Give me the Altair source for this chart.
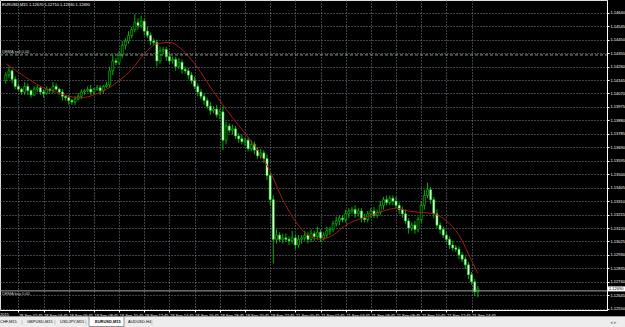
import altair as alt
import pandas as pd

# ---------------- data ----------------
symbol = "EURUSD,M15"
first_open = 1.1416

close_fri = [1.1420, 1.1423, 1.1417, 1.1412,
             1.1410, 1.1408, 1.1412, 1.1409, 1.1406, 1.1410, 1.1411, 1.1408, 1.1407, 1.1410,
             1.1409, 1.1412, 1.1410, 1.1408, 1.1405, 1.1404,
             1.1402, 1.1401, 1.1403, 1.1405,
             1.1408, 1.1409, 1.1410, 1.1408, 1.1410, 1.1411, 1.1409, 1.1412, 1.1413,
             1.1423, 1.1430, 1.1429, 1.1434,
             1.1441, 1.1444, 1.1448, 1.1452, 1.1457, 1.1455,
             1.1458, 1.1451, 1.1448, 1.1444, 1.1443,
             1.1430, 1.1437, 1.1438,
             1.1433, 1.1430, 1.1431, 1.1426, 1.1429, 1.1424, 1.1423,
             1.1420, 1.1416, 1.1412, 1.1408, 1.1405, 1.1402,
             1.1398, 1.1395, 1.1396, 1.1392, 1.1394,
             1.1374, 1.1384, 1.1381, 1.1382, 1.1377,
             1.1375, 1.1373, 1.1374, 1.1368, 1.1371, 1.1367, 1.1363, 1.1365, 1.1361,
             1.1349, 1.1332, 1.1304, 1.1307, 1.1304, 1.1305]

close_mon = [1.1304, 1.1303, 1.1305, 1.1300, 1.1304,
             1.1305, 1.1307, 1.1304, 1.1308, 1.1306, 1.1309, 1.1305, 1.1307, 1.1310, 1.1311,
             1.1315, 1.1317, 1.1319, 1.1318, 1.1322, 1.1324,
             1.1325, 1.1322, 1.1324, 1.1319, 1.1318, 1.1322, 1.1324, 1.1321, 1.1323,
             1.1328, 1.1332, 1.1330, 1.1333, 1.1331, 1.1328, 1.1325,
             1.1322, 1.1317, 1.1312, 1.1314, 1.1311, 1.1318,
             1.1328, 1.1335, 1.1339, 1.1332,
             1.1322, 1.1314, 1.1311, 1.1307,
             1.1304, 1.1300, 1.1298, 1.1297,
             1.1293, 1.1290, 1.1286,
             1.1279, 1.1274, 1.1267, 1.1269]

# wick lengths in pips (upper / lower)
uw_fri = [2, 3, 1, 2, 2, 1, 3, 2, 1, 2, 2, 1, 2, 2, 1, 3, 2, 1, 2, 1, 2, 1, 2, 2,
          2, 1, 2, 3, 1, 2, 2, 1, 2, 3, 4, 2, 3, 3, 2, 3, 2, 6, 3, 4, 2, 3, 2, 2,
          2, 3, 2, 2, 3, 2, 2, 3, 2, 2, 2, 2, 3, 2, 2, 2, 2, 3, 2, 3, 2, 4, 3, 2,
          3, 2, 2, 3, 2, 2, 3, 2, 2, 3, 2, 3, 2, 3, 4, 2, 3]
lw_fri = [2, 2, 3, 2, 1, 2, 2, 3, 2, 1, 2, 2, 3, 1, 2, 2, 1, 2, 3, 2, 3, 2, 2, 1,
          2, 2, 1, 2, 2, 1, 3, 2, 1, 2, 3, 2, 2, 2, 3, 2, 2, 2, 3, 2, 3, 2, 3, 2,
          4, 2, 2, 3, 2, 2, 3, 2, 3, 2, 3, 2, 2, 3, 2, 3, 2, 3, 2, 2, 3, 7, 3, 2,
          3, 2, 3, 2, 3, 2, 2, 3, 2, 2, 3, 3, 4, 17, 3, 2, 3]
uw_mon = [3, 2, 5, 2, 3, 2, 3, 2, 3, 2, 4, 2, 2, 3, 2, 2, 3, 2, 2, 3, 2,
          2, 3, 2, 2, 3, 2, 2, 3, 2, 3, 2, 3, 2, 2, 3, 2, 2, 3, 2, 2, 3, 2,
          3, 4, 5, 2, 2, 3, 2, 2, 2, 2, 3, 2, 2, 2, 2, 2, 2, 2, 2]
lw_mon = [2, 3, 2, 3, 2, 3, 2, 3, 2, 3, 2, 3, 2, 2, 3, 2, 2, 3, 2, 2, 3,
          2, 3, 2, 3, 2, 2, 3, 2, 2, 2, 3, 2, 2, 3, 2, 3, 3, 2, 4, 2, 3, 2,
          2, 3, 2, 3, 3, 2, 3, 2, 2, 3, 2, 2, 3, 2, 3, 3, 2, 3, 4]

# moving average (red line), sampled at bar numbers
ma_bars = [0, 4, 8, 12, 16, 20, 24, 28, 32, 36, 40, 44, 48, 52, 56, 60, 64, 68, 72, 76,
           80, 84, 88, 92, 96, 100, 104, 108, 112, 116, 120, 124, 128, 132, 136, 140,
           144, 148, 150]
ma_vals = [1.1428, 1.1422, 1.1416, 1.1411, 1.1408, 1.1405, 1.1404, 1.1406, 1.1410, 1.1416,
           1.1424, 1.1435, 1.1442, 1.1443, 1.1438, 1.1428, 1.1415, 1.1402, 1.1390, 1.1379,
           1.1367, 1.1352, 1.1332, 1.1317, 1.1307, 1.1304, 1.1307, 1.1314, 1.1318, 1.1321,
           1.1324, 1.1326, 1.1324, 1.1323, 1.1322, 1.1317, 1.1307, 1.1289, 1.1280]

price_labels = [1.14640, 1.14545, 1.14450, 1.14355, 1.14260, 1.14165, 1.14070, 1.13975,
                1.13880, 1.13785, 1.13690, 1.13595, 1.13500, 1.13405, 1.13310, 1.13215,
                1.13120, 1.13025, 1.12930, 1.12835, 1.12740, 1.12645, 1.12550]

time_labels = ["18 Sep 02:45", "18 Sep 04:45", "18 Sep 06:45", "18 Sep 08:45", "18 Sep 10:45",
               "18 Sep 12:45", "18 Sep 14:45", "18 Sep 16:45", "18 Sep 18:45", "18 Sep 20:45",
               "18 Sep 22:45", "21 Sep 00:45", "21 Sep 02:45", "21 Sep 04:45", "21 Sep 06:45",
               "21 Sep 08:45", "21 Sep 10:45", "21 Sep 12:45", "21 Sep 14:45"]

tab_names = ["CHF,M15", "GBPUSD,M15", "USDJPY,M15", "EURUSD,M15", "AUDUSD,H4"]
active_tab = "EURUSD,M15"
level_names = ["DEMA sell 0.00", "DEMA buy 0.00"]
level_prices = [1.14342, 1.12676]

# ---------------- tables ----------------
times = list(pd.date_range("2015-09-18 01:45", "2015-09-18 23:45", freq="15min")) + \
        list(pd.date_range("2015-09-21 00:00", "2015-09-21 15:15", freq="15min"))
tstr = [t.strftime("%d %b %H:%M") for t in times]
closes = close_fri + close_mon
opens = [first_open] + closes[:-1]
uw = uw_fri + uw_mon
lw = lw_fri + lw_mon
highs = [max(o, c) + u * 0.0001 for o, c, u in zip(opens, closes, uw)]
lows = [min(o, c) - l * 0.0001 for o, c, l in zip(opens, closes, lw)]
df = pd.DataFrame({"i": range(len(closes)), "t": tstr, "open": opens, "close": closes,
                   "high": highs, "low": lows})
df["bull"] = df["close"] >= df["open"]

ma_df = pd.DataFrame({"i": ma_bars, "ma": ma_vals})
lab_idx = [tstr.index(s) for s in time_labels]
expr = "''"
for k, s in reversed(list(zip(lab_idx, time_labels))):
    expr = f"datum.value == {k} ? '{s}' : " + expr

last = df.tail(1)
header = f"{symbol}  {last['open'].iloc[0]:.5f} {last['high'].iloc[0]:.5f} {last['low'].iloc[0]:.5f} {last['close'].iloc[0]:.5f}"

lev_df = pd.DataFrame({"name": level_names, "price": level_prices})

# ---------------- chart ----------------
W, H = 607, 310
FONT = "Liberation Sans"
GREEN = "#00e000"
xscale = alt.Scale(domain=[-0.25, 189.44], nice=False, zero=False)
yscale = alt.Scale(domain=[1.12541, 1.14730], nice=False, zero=False)

xaxis = alt.Axis(values=lab_idx, tickCount=100, labelExpr=expr, title=None, orient="bottom",
                 grid=True, gridColor="#7a8694", gridDash=[1, 2], gridWidth=1,
                 labelAlign="left", labelBaseline="top", labelPadding=1, labelFontSize=4,
                 labelColor="#ffffff", labelFont=FONT, labelOverlap=False, labelFlush=False,
                 labelBound=False, tickColor="#ffffff", tickSize=2, domainColor="#ffffff")
yaxis = alt.Axis(values=price_labels, tickCount=100, format=".5f", title=None, orient="right",
                 grid=True, gridColor="#7a8694", gridDash=[1, 2], gridWidth=1,
                 labelAlign="left", labelBaseline="middle", labelPadding=1, labelFontSize=4,
                 labelColor="#ffffff", labelFont=FONT, labelOverlap=False, labelFlush=False,
                 labelBound=False, tickColor="#ffffff", tickSize=2, domainColor="#ffffff")

wicks = alt.Chart(df).mark_rule(color=GREEN, strokeWidth=0.8).encode(
    x=alt.X("i:Q", scale=xscale, axis=xaxis),
    y=alt.Y("low:Q", scale=yscale, axis=yaxis),
    y2="high:Q",
)
bodies = alt.Chart(df).mark_bar(size=2, stroke=GREEN, strokeWidth=0.6).encode(
    x="i:Q",
    y="open:Q",
    y2="close:Q",
    fill=alt.condition("datum.bull", alt.value("#000000"), alt.value("#ffffff")),
)
ma_line = alt.Chart(ma_df).mark_line(color="#a51a1a", strokeWidth=1, interpolate="monotone").encode(
    x="i:Q", y="ma:Q")

lev_lines = alt.Chart(lev_df).mark_rule(strokeWidth=1).encode(
    x=alt.value(0), x2=alt.value(W), y="price:Q",
    color=alt.Color("name:N", scale=alt.Scale(domain=level_names, range=["#86a086", "#a8a8a8"]), legend=None),
    strokeDash=alt.StrokeDash("name:N", scale=alt.Scale(domain=level_names, range=[[3, 2], [1, 0]]), legend=None),
)
lev_text_sell = alt.Chart(lev_df.iloc[[0]]).mark_text(
    align="left", baseline="bottom", fontSize=4, font=FONT, color="#d0d0d0", dy=-1).encode(
    x=alt.value(2), y="price:Q", text="name:N")
lev_text_buy = alt.Chart(lev_df.iloc[[1]]).mark_text(
    align="left", baseline="top", fontSize=4, font=FONT, color="#d0d0d0", dy=1).encode(
    x=alt.value(2), y="price:Q", text="name:N")

price_box = alt.Chart(last).mark_rule(color="#ffffff", strokeWidth=5, strokeCap="butt").encode(
    x=alt.value(W + 1), x2=alt.value(625), y="close:Q")
price_txt = alt.Chart(last).mark_text(align="left", baseline="middle", fontSize=4, font=FONT,
                                      color="#000000").encode(
    x=alt.value(W + 2), y="close:Q", text=alt.Text("close:Q", format=".5f"))

head = alt.Chart(pd.DataFrame({"h": [header]})).mark_text(
    align="left", baseline="middle", fontSize=4, font=FONT, color="#ffffff").encode(
    x=alt.value(2), y=alt.value(5), text="h:N")
year_txt = alt.Chart(pd.DataFrame({"h": ["2015"]})).mark_text(
    align="left", baseline="top", fontSize=4, font=FONT, color="#ffffff").encode(
    x=alt.value(0), y=alt.value(H + 3), text="h:N")

# tab bar
tabbar = alt.Chart(pd.DataFrame({"a": [0]})).mark_rect(color="#ededed").encode(
    x=alt.value(0), x2=alt.value(625), y=alt.value(316), y2=alt.value(327))
tabline = alt.Chart(pd.DataFrame({"a": [0]})).mark_rule(color="#a0a0a0", strokeWidth=1).encode(
    x=alt.value(0), x2=alt.value(625), y=alt.value(316.5))
active = alt.Chart(pd.DataFrame({"a": [0]})).mark_rect(color="#ffffff", stroke="#7a7a7a",
                                                      strokeWidth=0.8).encode(
    x=alt.value(89), x2=alt.value(124), y=alt.value(316.5), y2=alt.value(326.5))
tab_x = [0, 27, 60, 95, 128]
sep_x = [22, 55, 86, 152]
tab_layers = []
for name, tx in zip(tab_names, tab_x):
    tab_layers.append(alt.Chart(pd.DataFrame({"n": [name]})).mark_text(
        align="left", baseline="middle", fontSize=4, font=FONT,
        color="#000000", fontWeight="bold" if name == active_tab else "normal").encode(
        x=alt.value(tx), y=alt.value(321.5), text="n:N"))
for sx in sep_x:
    tab_layers.append(alt.Chart(pd.DataFrame({"n": ["|"]})).mark_text(
        align="center", baseline="middle", fontSize=5, font=FONT, color="#909090").encode(
        x=alt.value(sx), y=alt.value(321.5), text="n:N"))
arrows = alt.Chart(pd.DataFrame({"n": ["◂ ▸"]})).mark_text(
    align="left", baseline="middle", fontSize=5, font="DejaVu Sans", color="#909090").encode(
    x=alt.value(610), y=alt.value(321.5), text="n:N")

chart = alt.layer(
    wicks, bodies, ma_line, lev_lines, lev_text_sell, lev_text_buy, price_box, price_txt,
    head, year_txt, tabbar, tabline, active, *tab_layers, arrows
).properties(
    width=W, height=H,
    autosize=alt.AutoSizeParams(type="none"),
    padding={"left": 0, "top": 0, "right": 625 - W, "bottom": 327 - H},
    background="#000000",
).configure_view(stroke=None).configure(font=FONT)

chart.save("out.html", embed_options={"renderer": "svg", "actions": False})
